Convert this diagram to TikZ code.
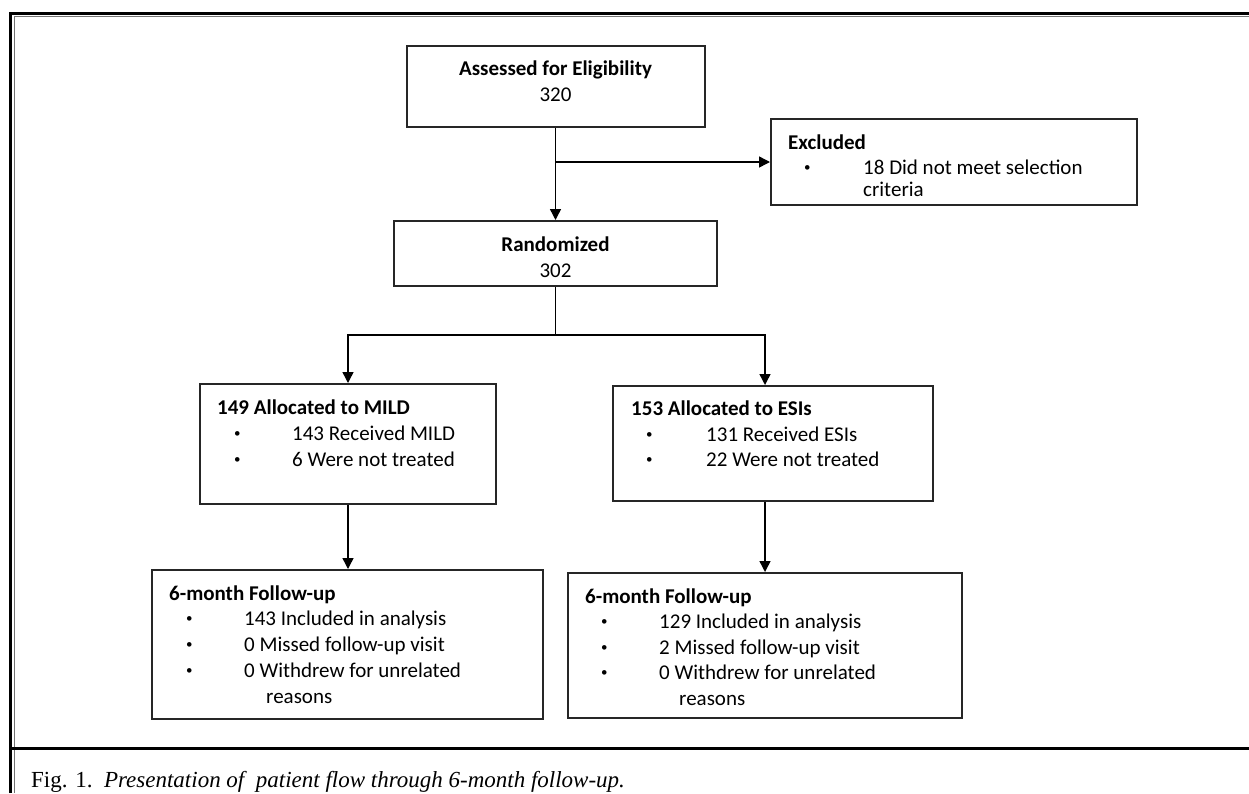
\documentclass[tikz,border=0pt]{standalone}
\usepackage{fontspec}
\setmainfont{Carlito}
\newfontfamily\capfont{Liberation Serif}
\usetikzlibrary{arrows.meta}

\begin{document}
\begin{tikzpicture}[x=1pt, y=-1pt,
  box/.style = {draw=black!85, line width=2pt, inner sep=0pt},
  txt/.style = {anchor=base west, inner sep=0pt, font=\fontsize{21}{25}\selectfont},
  ctr/.style = {anchor=base, inner sep=0pt, font=\fontsize{21}{25}\selectfont},
  dot/.style = {anchor=base west, inner sep=0pt, font=\fontsize{13}{13}\selectfont},
  arr/.style = {line width=1.4pt, -{Triangle[length=11pt, width=11pt]}}]
\useasboundingbox (0,0) rectangle (1249,793);
% frame
\draw[line width=3pt] (10.7,793) -- (10.7,13.3) -- (1249,13.3);
\draw[line width=1.2pt, black!55] (14.5,793) -- (14.5,16.5) -- (1249,16.5);
\draw[line width=3pt] (12,748) -- (1249,748);
% boxes
\node[box, minimum width=298pt, minimum height=81pt] (assess) at (555.5,86.5) {};
\node[box, minimum width=366pt, minimum height=86pt] (excl) at (954,162) {};
\node[box, minimum width=323pt, minimum height=65pt] (rand) at (555.5,253.5) {};
\node[box, minimum width=296pt, minimum height=120pt] (mild) at (348,444) {};
\node[box, minimum width=320pt, minimum height=115pt] (esis) at (773,443.5) {};
\node[box, minimum width=391pt, minimum height=149pt] (fuL) at (347.5,644.5) {};
\node[box, minimum width=394pt, minimum height=145pt] (fuR) at (765,645.5) {};
\coordinate (split) at (555.5,335);
% texts
\node[ctr] (assessh) at (555.5,75) {\textbf{Assessed for Eligibility}};
\node[ctr] (assessn) at (555.5,101) {320};
\node[ctr] (randh) at (555.5,251) {\textbf{Randomized}};
\node[ctr] (randn) at (555.5,277) {302};
\node[txt] (exclh) at (788,149) {\textbf{Excluded}};
\node[dot] (exclb) at (804,171) {•};
\node[txt] (excl1) at (863,174) {18 Did not meet selection};
\node[txt] (excl2) at (863,196) {criteria};
\node[txt] (mildh) at (217,414) {\textbf{149 Allocated to MILD}};
\node[dot] (mildb1) at (234,437) {•};
\node[dot] (mildb2) at (234,463) {•};
\node[txt] (mild1) at (292,440) {143 Received MILD};
\node[txt] (mild2) at (292,466) {6 Were not treated};
\node[txt] (esish) at (631,415) {\textbf{153 Allocated to ESIs}};
\node[dot] (esisb1) at (646,438) {•};
\node[dot] (esisb2) at (646,463) {•};
\node[txt] (esis1) at (706,441) {131 Received ESIs};
\node[txt] (esis2) at (706,466) {22 Were not treated};
\node[txt] (fuLh) at (169,600) {\textbf{6-month Follow-up}};
\node[dot] (fuLb1) at (186,622) {•};
\node[dot] (fuLb2) at (186,648) {•};
\node[dot] (fuLb3) at (186,674) {•};
\node[txt] (fuL1) at (244,625) {143 Included in analysis};
\node[txt] (fuL2) at (244,651) {0 Missed follow-up visit};
\node[txt] (fuL3) at (244,677) {0 Withdrew for unrelated};
\node[txt] (fuL4) at (266,703) {reasons};
\node[txt] (fuRh) at (585,603) {\textbf{6-month Follow-up}};
\node[dot] (fuRb1) at (601,625) {•};
\node[dot] (fuRb2) at (601,651) {•};
\node[dot] (fuRb3) at (601,676) {•};
\node[txt] (fuR1) at (659,628) {129 Included in analysis};
\node[txt] (fuR2) at (659,654) {2 Missed follow-up visit};
\node[txt] (fuR3) at (659,679) {0 Withdrew for unrelated};
\node[txt] (fuR4) at (679,705) {reasons};
\node[anchor=base west, inner sep=0pt, font=\capfont\fontsize{23}{27}\selectfont] (cap) at (31,787) {Fig. 1.\ \ \textit{Presentation of\ \ patient flow through 6-month follow-up.}};
% connectors
\draw[arr] (assess) -- (rand);
\draw[arr] (assess.south |- excl) -- (excl.west);
\draw[line width=1.4pt] (rand) -- (split);
\draw[arr] (split) -| (mild);
\draw[arr] (split) -| (fuR.north |- esis.north);
\draw[arr] (mild) -- (fuL.north -| mild);
\draw[arr] (fuR.north |- esis.south) -- (fuR.north);
\end{tikzpicture}
\end{document}
